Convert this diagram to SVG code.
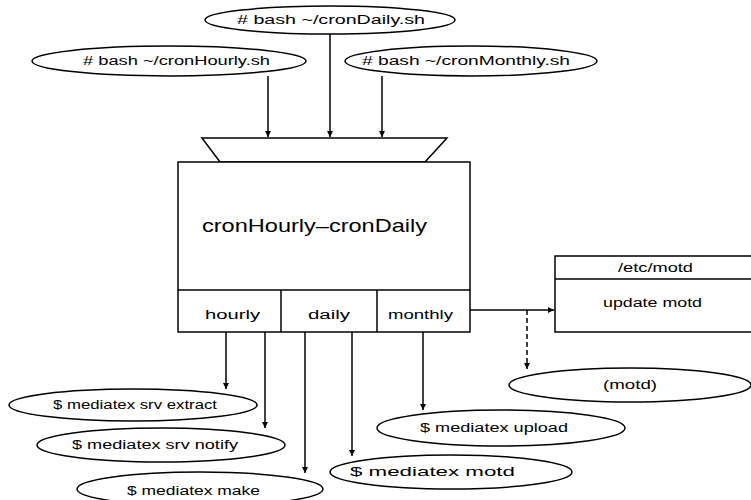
<svg xmlns="http://www.w3.org/2000/svg" width="751" height="500" viewBox="0 0 751 500">
  <style>
    .shape { fill: #fff; stroke: #000; stroke-width: 1.5; }
    .edge { fill: none; stroke: #000; stroke-width: 1.5; }
    .dash { stroke-dasharray: 5 3; }
    text { font-family: "Liberation Sans", Arial, sans-serif; fill: #000; }
    .lbl { font-size: 12px; }
    .title { font-size: 19px; }
  </style>
  <defs>
    <marker id="arrow" viewBox="0 0 10 10" refX="10" refY="5" markerWidth="6" markerHeight="8" markerUnits="userSpaceOnUse" orient="auto">
      <path d="M0,0 L10,5 L0,10 z" fill="#000"/>
    </marker>
  </defs>

  <rect width="751" height="500" fill="#fff"/>

  <!-- cron commands -->
  <g id="cmd-daily">
    <ellipse class="shape" cx="330" cy="20" rx="125" ry="14"/>
    <text class="lbl" x="237" y="24" textLength="188" lengthAdjust="spacingAndGlyphs"># bash ~/cronDaily.sh</text>
  </g>
  <g id="cmd-hourly">
    <ellipse class="shape" cx="169" cy="61" rx="137" ry="15"/>
    <text class="lbl" x="83" y="65" textLength="187" lengthAdjust="spacingAndGlyphs"># bash ~/cronHourly.sh</text>
  </g>
  <g id="cmd-monthly">
    <ellipse class="shape" cx="471" cy="61" rx="126" ry="15"/>
    <text class="lbl" x="362" y="65" textLength="208" lengthAdjust="spacingAndGlyphs"># bash ~/cronMonthly.sh</text>
  </g>

  <!-- main component with entry trapezoid and ports -->
  <g id="cron">
    <polygon class="shape" points="202,138 447,138 425,162 220,162"/>
    <rect class="shape" x="178" y="162" width="292" height="170"/>
    <line class="edge" x1="178" y1="290" x2="470" y2="290"/>
    <line class="edge" x1="281" y1="290" x2="281" y2="332"/>
    <line class="edge" x1="377" y1="290" x2="377" y2="332"/>
    <text class="title" x="202" y="232" textLength="225" lengthAdjust="spacingAndGlyphs">cronHourly–cronDaily</text>
    <text class="lbl" x="205" y="319" textLength="55" lengthAdjust="spacingAndGlyphs">hourly</text>
    <text class="lbl" x="308" y="319" textLength="42" lengthAdjust="spacingAndGlyphs">daily</text>
    <text class="lbl" x="388" y="319" textLength="65" lengthAdjust="spacingAndGlyphs">monthly</text>
  </g>

  <!-- motd file -->
  <g id="motd-file">
    <rect class="shape" x="555" y="256" width="200" height="76"/>
    <line class="edge" x1="555" y1="279" x2="755" y2="279"/>
    <text class="lbl" x="618" y="272" textLength="75" lengthAdjust="spacingAndGlyphs">/etc/motd</text>
    <text class="lbl" x="603" y="307" textLength="99" lengthAdjust="spacingAndGlyphs">update motd</text>
  </g>
  <g id="motd-out">
    <ellipse class="shape" cx="630" cy="385" rx="121" ry="17"/>
    <text class="lbl" x="603" y="389" textLength="54" lengthAdjust="spacingAndGlyphs">(motd)</text>
  </g>

  <!-- mediatex commands -->
  <g id="srv-extract">
    <ellipse class="shape" cx="133" cy="405" rx="124" ry="16"/>
    <text class="lbl" x="53" y="409" textLength="164" lengthAdjust="spacingAndGlyphs">$ mediatex srv extract</text>
  </g>
  <g id="srv-notify">
    <ellipse class="shape" cx="161" cy="445" rx="124" ry="17"/>
    <text class="lbl" x="72" y="449" textLength="166" lengthAdjust="spacingAndGlyphs">$ mediatex srv notify</text>
  </g>
  <g id="make">
    <ellipse class="shape" cx="200" cy="489" rx="123" ry="17"/>
    <text class="lbl" x="127" y="495" textLength="133" lengthAdjust="spacingAndGlyphs">$ mediatex make</text>
  </g>
  <g id="upload">
    <ellipse class="shape" cx="501" cy="428" rx="124" ry="18"/>
    <text class="lbl" x="420" y="432" textLength="148" lengthAdjust="spacingAndGlyphs">$ mediatex upload</text>
  </g>
  <g id="motd-cmd">
    <ellipse class="shape" cx="451" cy="472" rx="121" ry="17"/>
    <text class="lbl" x="350" y="476" textLength="165" lengthAdjust="spacingAndGlyphs">$ mediatex motd</text>
  </g>

  <!-- connectors -->
  <g id="connectors">
    <line class="edge" x1="268" y1="76" x2="268" y2="137" marker-end="url(#arrow)"/>
    <line class="edge" x1="330" y1="34" x2="330" y2="137" marker-end="url(#arrow)"/>
    <line class="edge" x1="382" y1="76" x2="382" y2="137" marker-end="url(#arrow)"/>
    <line class="edge" x1="226" y1="332" x2="226" y2="389" marker-end="url(#arrow)"/>
    <line class="edge" x1="265" y1="332" x2="265" y2="428" marker-end="url(#arrow)"/>
    <line class="edge" x1="305" y1="332" x2="305" y2="473" marker-end="url(#arrow)"/>
    <line class="edge" x1="352" y1="332" x2="352" y2="456" marker-end="url(#arrow)"/>
    <line class="edge" x1="423" y1="332" x2="423" y2="410" marker-end="url(#arrow)"/>
    <line class="edge" x1="470" y1="310" x2="554" y2="310" marker-end="url(#arrow)"/>
    <line class="edge dash" x1="527" y1="310" x2="527" y2="369" marker-end="url(#arrow)"/>
  </g>
</svg>
